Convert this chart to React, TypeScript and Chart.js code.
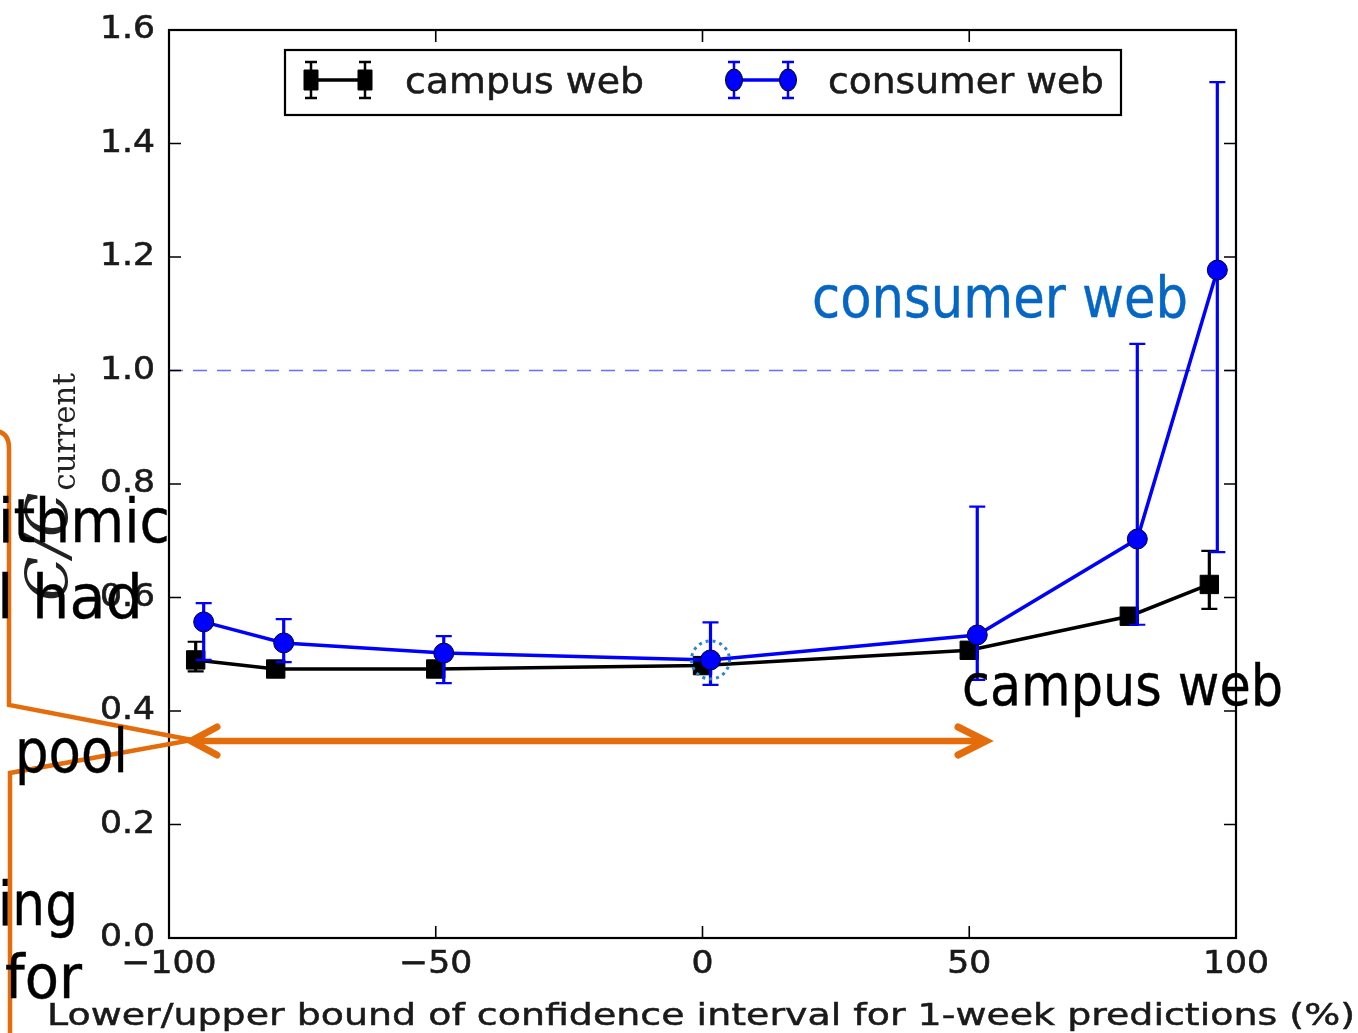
import React, { useEffect, useRef } from "react";
import { Chart, registerables } from "chart.js";

Chart.register(...registerables);

const W = 1358;
const H = 1033;

// ---- data ----
const seriesNames = ["campus web", "consumer web"];
const campusX = [-95, -80, -50, 0, 50, 80, 95];
const campusY = [0.49, 0.474, 0.474, 0.48, 0.507, 0.567, 0.623];
const campusLow = [0.47, 0.466, 0.466, 0.47, 0.497, 0.553, 0.58];
const campusHigh = [0.522, 0.482, 0.482, 0.49, 0.517, 0.581, 0.682];
const consumerX = [-93.5, -78.5, -48.5, 1.5, 51.5, 81.5, 96.5];
const consumerY = [0.557, 0.52, 0.502, 0.49, 0.534, 0.703, 1.177];
const consumerLow = [0.49, 0.486, 0.449, 0.446, 0.455, 0.552, 0.68];
const consumerHigh = [0.59, 0.562, 0.532, 0.556, 0.76, 1.047, 1.508];
const xTicks = [-100, -50, 0, 50, 100];
const yTicks = [0, 0.2, 0.4, 0.6, 0.8, 1.0, 1.2, 1.4, 1.6];
const referenceLevel = 1.0;
const highlightIndex = 3;
const xTitle = "Lower/upper bound of confidence interval for 1-week predictions (%)";
const leftFragments = ["ithmic", "l had", "pool", "ing", "for"];

const ORANGE = "#E46C0A";
const ANNOT_BLUE = "#0566C4";

function stretchText(
  ctx: CanvasRenderingContext2D,
  text: string,
  x: number,
  y: number,
  font: string,
  color: string,
  align: CanvasTextAlign,
  baseline: CanvasTextBaseline,
  sx: number,
  stroke = 0
) {
  ctx.save();
  ctx.font = font;
  ctx.fillStyle = color;
  ctx.strokeStyle = color;
  ctx.textAlign = align;
  ctx.textBaseline = baseline;
  ctx.translate(x, y);
  ctx.scale(sx, 1);
  ctx.fillText(text, 0, 0);
  if (stroke > 0) {
    ctx.lineWidth = stroke;
    ctx.strokeText(text, 0, 0);
  }
  ctx.restore();
}

function fitText(
  ctx: CanvasRenderingContext2D,
  text: string,
  left: number,
  right: number,
  baseline: number,
  font: string,
  color: string,
  stroke = 0
) {
  ctx.save();
  ctx.font = font;
  const w = ctx.measureText(text).width;
  const sx = (right - left) / w;
  ctx.fillStyle = color;
  ctx.strokeStyle = color;
  ctx.textAlign = "left";
  ctx.textBaseline = "alphabetic";
  ctx.translate(left, baseline);
  ctx.scale(sx, 1);
  ctx.fillText(text, 0, 0);
  if (stroke > 0) {
    ctx.lineWidth = stroke;
    ctx.strokeText(text, 0, 0);
  }
  ctx.restore();
}

const errorBars = {
  id: "errorBars",
  beforeDatasetDraw(chart: any, args: any) {
    const ctx = chart.ctx as CanvasRenderingContext2D;
    const xs = chart.scales.x;
    const ys = chart.scales.y;
    const i = args.index;
    const lows = i === 0 ? campusLow : consumerLow;
    const highs = i === 0 ? campusHigh : consumerHigh;
    const xv = i === 0 ? campusX : consumerX;
    const color = i === 0 ? "#000000" : "#0000ff";
    ctx.save();
    ctx.strokeStyle = color;
    for (let k = 0; k < xv.length; k++) {
      const px = xs.getPixelForValue(xv[k]);
      const p1 = ys.getPixelForValue(lows[k]);
      const p2 = ys.getPixelForValue(highs[k]);
      ctx.lineWidth = 3.2;
      ctx.beginPath();
      ctx.moveTo(px, p1);
      ctx.lineTo(px, p2);
      ctx.stroke();
      ctx.lineWidth = 2.2;
      ctx.beginPath();
      ctx.moveTo(px - 8, p1);
      ctx.lineTo(px + 8, p1);
      ctx.moveTo(px - 8, p2);
      ctx.lineTo(px + 8, p2);
      ctx.stroke();
    }
    ctx.restore();
  },
  beforeDatasetsDraw(chart: any) {
    const ctx = chart.ctx as CanvasRenderingContext2D;
    const a = chart.chartArea;
    const py = chart.scales.y.getPixelForValue(referenceLevel);
    ctx.save();
    ctx.strokeStyle = "rgba(70,70,255,0.8)";
    ctx.lineWidth = 1.4;
    ctx.setLineDash([14, 10]);
    ctx.beginPath();
    ctx.moveTo(a.left, py);
    ctx.lineTo(a.right, py);
    ctx.stroke();
    ctx.restore();
  },
  afterDatasetsDraw(chart: any) {
    const ctx = chart.ctx as CanvasRenderingContext2D;
    const px = chart.scales.x.getPixelForValue(consumerX[highlightIndex]);
    const py = chart.scales.y.getPixelForValue(consumerY[highlightIndex]);
    ctx.save();
    ctx.strokeStyle = "#2E86C8";
    ctx.lineWidth = 3;
    ctx.setLineDash([3, 4]);
    ctx.beginPath();
    ctx.arc(px, py, 19, 0, Math.PI * 2);
    ctx.stroke();
    ctx.restore();
  },
};

const decorations = {
  id: "decorations",
  afterDraw(chart: any) {
    const ctx = chart.ctx as CanvasRenderingContext2D;
    const a = chart.chartArea;
    const xs = chart.scales.x;
    const ys = chart.scales.y;
    const tickFont = "32px 'DejaVu Sans'";
    const SX = 1.08;

    // frame
    ctx.save();
    ctx.strokeStyle = "#000";
    ctx.lineWidth = 2.2;
    ctx.strokeRect(a.left, a.top, a.right - a.left, a.bottom - a.top);
    // ticks
    ctx.lineWidth = 1.6;
    ctx.beginPath();
    for (const v of xTicks) {
      const px = xs.getPixelForValue(v);
      ctx.moveTo(px, a.bottom);
      ctx.lineTo(px, a.bottom - 12);
      ctx.moveTo(px, a.top);
      ctx.lineTo(px, a.top + 12);
    }
    for (const v of yTicks) {
      const py = ys.getPixelForValue(v);
      ctx.moveTo(a.left, py);
      ctx.lineTo(a.left + 12, py);
      ctx.moveTo(a.right, py);
      ctx.lineTo(a.right - 12, py);
    }
    ctx.stroke();
    ctx.restore();

    // tick labels
    for (const v of xTicks) {
      const px = xs.getPixelForValue(v);
      const label = v < 0 ? "\u2212" + Math.abs(v) : String(v);
      stretchText(ctx, label, px, a.bottom + 27, tickFont, "#1a1a1a", "center", "middle", SX, 0.6);
    }
    for (const v of yTicks) {
      const py = ys.getPixelForValue(v);
      stretchText(ctx, v.toFixed(1), a.left - 14, py, tickFont, "#1a1a1a", "right", "middle", SX, 0.6);
    }

    // x title
    fitText(ctx, xTitle, 47, 1355, 1025, "31px 'DejaVu Sans'", "#1a1a1a", 0.5);

    // y title  C/C_current (rotated)
    ctx.save();
    const yc = (a.top + a.bottom) / 2;
    ctx.translate(0, yc);
    ctx.rotate(-Math.PI / 2);
    ctx.fillStyle = "#222";
    ctx.textAlign = "left";
    ctx.textBaseline = "alphabetic";
    const mainFont = "italic 58px 'DejaVu Serif'";
    const subFont = "31px 'DejaVu Serif'";
    ctx.font = mainFont;
    const w1 = ctx.measureText("C/C").width;
    ctx.font = subFont;
    const w2 = ctx.measureText("current").width;
    const u0 = -(w1 + w2) / 2 - 4;
    ctx.font = mainFont;
    ctx.fillText("C/C", u0, 67);
    ctx.font = subFont;
    ctx.fillText("current", u0 + w1 + 2, 75);
    ctx.restore();

    // legend
    ctx.save();
    ctx.fillStyle = "#fff";
    ctx.fillRect(285, 50, 836, 65);
    ctx.strokeStyle = "#000";
    ctx.lineWidth = 2.2;
    ctx.strokeRect(285, 50, 836, 65);
    const ly = 80;
    const drawLegendMarker = (x1: number, x2: number, color: string, square: boolean) => {
      ctx.strokeStyle = color;
      ctx.fillStyle = color;
      ctx.lineWidth = 3.5;
      ctx.beginPath();
      ctx.moveTo(x1, ly);
      ctx.lineTo(x2, ly);
      ctx.stroke();
      for (const x of [x1, x2]) {
        ctx.strokeStyle = color;
        ctx.lineWidth = 2.5;
        ctx.beginPath();
        ctx.moveTo(x, ly - 18);
        ctx.lineTo(x, ly + 18);
        ctx.moveTo(x - 6, ly - 18);
        ctx.lineTo(x + 6, ly - 18);
        ctx.moveTo(x - 6, ly + 18);
        ctx.lineTo(x + 6, ly + 18);
        ctx.stroke();
        ctx.beginPath();
        if (square) {
          ctx.rect(x - 7, ly - 10, 14, 20);
        } else {
          ctx.ellipse(x, ly, 8.5, 11, 0, 0, Math.PI * 2);
        }
        ctx.fill();
        ctx.strokeStyle = "#000";
        ctx.lineWidth = 1;
        ctx.stroke();
      }
    };
    drawLegendMarker(311, 365, "#000", true);
    drawLegendMarker(734, 788, "#0000ff", false);
    ctx.restore();
    fitText(ctx, seriesNames[0], 405, 644, 93, "35px 'DejaVu Sans'", "#1a1a1a", 0.5);
    fitText(ctx, seriesNames[1], 828, 1104, 93, "35px 'DejaVu Sans'", "#1a1a1a", 0.5);

    // ---- overlay annotations ----
    ctx.save();
    ctx.strokeStyle = ORANGE;
    ctx.lineWidth = 4.5;
    ctx.lineJoin = "miter";
    ctx.beginPath();
    ctx.moveTo(-5, 431);
    ctx.quadraticCurveTo(9, 432, 9, 448);
    ctx.lineTo(9, 705);
    ctx.lineTo(192, 740);
    ctx.lineTo(10, 773);
    ctx.lineTo(10, 1040);
    ctx.stroke();
    // double-headed arrow
    ctx.lineWidth = 6.5;
    ctx.lineCap = "round";
    ctx.beginPath();
    ctx.moveTo(194, 741);
    ctx.lineTo(985, 741);
    ctx.stroke();
    ctx.lineWidth = 7;
    ctx.lineJoin = "miter";
    ctx.beginPath();
    ctx.moveTo(217, 727);
    ctx.lineTo(191, 741);
    ctx.lineTo(217, 755);
    ctx.moveTo(958, 727);
    ctx.lineTo(986, 741);
    ctx.lineTo(958, 755);
    ctx.stroke();
    ctx.restore();

    // annotation texts
    fitText(ctx, "consumer web", 812, 1188, 317, "57px 'DejaVu Sans'", ANNOT_BLUE, 0.4);
    fitText(ctx, "campus web", 962, 1283, 705, "57px 'DejaVu Sans'", "#000", 0.4);

    const leftBaselines = [542, 618, 772, 925, 998];
    const leftLefts = [-2, -3, 15, -2, 5];
    const leftRights = [170, 143, 128, 78, 82];
    for (let i = 0; i < leftFragments.length; i++) {
      fitText(ctx, leftFragments[i], leftLefts[i], leftRights[i], leftBaselines[i], "61px 'DejaVu Sans'", "#000", 0.4);
    }
  },
};

export default function App() {
  const ref = useRef<HTMLCanvasElement>(null);
  useEffect(() => {
    const prevMargin = document.body.style.margin;
    document.body.style.margin = "0";
    const canvas = ref.current!;
    const chart = new Chart(canvas, {
      type: "line",
      data: {
        datasets: [
          {
            label: seriesNames[0],
            data: campusX.map((x, i) => ({ x, y: campusY[i] })),
            borderColor: "#000000",
            backgroundColor: "#000000",
            borderWidth: 3.5,
            pointStyle: "rect",
            pointRadius: 13,
            pointBackgroundColor: "#000000",
            pointBorderColor: "#000000",
            pointBorderWidth: 1,
            tension: 0,
            order: 2,
            clip: false,
          },
          {
            label: seriesNames[1],
            data: consumerX.map((x, i) => ({ x, y: consumerY[i] })),
            borderColor: "#0000ff",
            backgroundColor: "#0000ff",
            borderWidth: 3.5,
            pointStyle: "circle",
            pointRadius: 10,
            pointBackgroundColor: "#0000ff",
            pointBorderColor: "#000033",
            pointBorderWidth: 1,
            tension: 0,
            order: 1,
            clip: false,
          },
        ],
      },
      options: {
        animation: false,
        responsive: false,
        devicePixelRatio: 1,
        layout: { padding: { top: 30, right: 122, left: 0, bottom: 0 } },
        plugins: {
          legend: { display: false },
          tooltip: { enabled: false },
        },
        events: [],
        scales: {
          x: {
            type: "linear",
            min: -100,
            max: 100,
            ticks: { display: false, stepSize: 50 },
            grid: { display: false },
            border: { display: false },
            afterFit: (s: any) => {
              s.height = 95;
            },
          },
          y: {
            type: "linear",
            min: 0,
            max: 1.6,
            ticks: { display: false, stepSize: 0.2 },
            grid: { display: false },
            border: { display: false },
            afterFit: (s: any) => {
              s.width = 169;
            },
          },
        },
      },
      plugins: [errorBars, decorations],
    });
    return () => {
      chart.destroy();
      document.body.style.margin = prevMargin;
    };
  }, []);
  return (
    <div style={{ position: "relative", width: W, height: H, background: "#fff", overflow: "hidden" }}>
      <canvas ref={ref} width={W} height={H} style={{ display: "block", width: W, height: H }} />
    </div>
  );
}
